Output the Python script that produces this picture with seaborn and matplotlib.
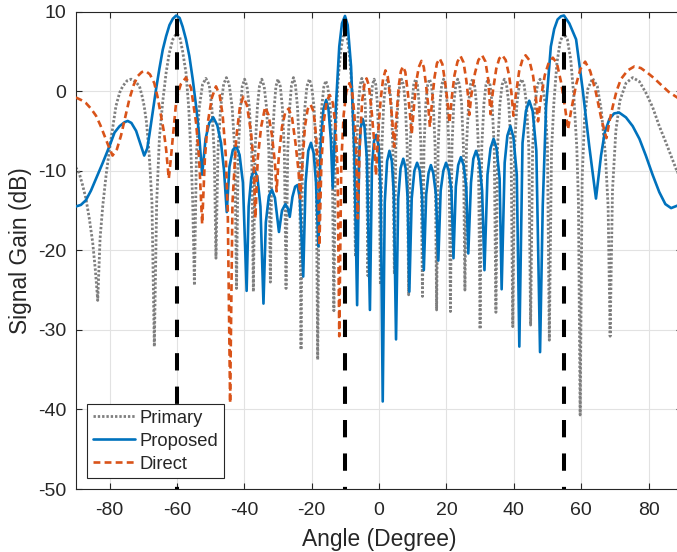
import matplotlib
matplotlib.use("Agg")
import matplotlib.pyplot as plt
import seaborn as sns

# ---------------- data ----------------
primary_pts = [
    (-90.0, -9.6), (-89.0, -10.3), (-88.0, -11.8), (-87.0, -13.5), (-86.0, -16.0), (-85.0, -19.0),
    (-84.2, -22.5), (-83.5, -26.3), (-82.8, -18.5), (-82.0, -14.4), (-81.0, -10.5), (-80.0, -7.3),
    (-79.0, -4.5), (-78.1, -1.9), (-77.0, -0.2), (-76.1, 0.6), (-74.8, 1.3), (-73.6, 1.5),
    (-72.3, 1.2), (-71.1, 0.6), (-70.4, -0.5), (-69.7, -1.9), (-69.0, -4.0), (-68.2, -8.1),
    (-67.4, -14.0), (-66.7, -32.1), (-66.0, -14.0), (-65.2, -6.0), (-64.2, -1.3), (-63.2, 2.3),
    (-62.3, 4.7), (-61.2, 6.5), (-60.2, 7.2), (-59.2, 6.9), (-58.3, 5.0), (-57.3, 2.3),
    (-56.5, -2.0), (-55.8, -8.1), (-55.3, -14.0), (-54.8, -24.4),
    (-54.2, -8.0), (-53.4, -2.2), (-52.4, 0.8), (-51.4, 1.6), (-50.4, 0.8), (-49.6, -2.2), (-48.9, -8.0), (-48.4, -21.0),
    (-47.8, -7.5), (-47.0, -2.0), (-46.1, 0.9), (-45.3, 1.7), (-44.5, 0.9), (-43.6, -2.0), (-42.8, -7.5), (-42.3, -24.8),
    (-41.8, -7.5), (-41.1, -2.0), (-40.6, 0.6), (-39.9, 1.5), (-39.2, 0.6), (-38.5, -2.0), (-37.8, -7.5), (-37.3, -25.2),
    (-36.8, -7.5), (-36.1, -2.0), (-35.5, 0.6), (-34.8, 1.5), (-34.1, 0.6), (-33.4, -2.0), (-32.7, -7.5), (-32.25, -24.0),
    (-31.8, -7.5), (-31.1, -2.0), (-30.6, 0.6), (-30.0, 1.5), (-29.3, 0.6), (-28.7, -2.0), (-28.1, -7.5), (-27.6, -24.8),
    (-27.1, -7.5), (-26.5, -2.0), (-26.0, 0.7), (-25.4, 1.7), (-24.8, 0.7), (-24.2, -2.0), (-23.6, -7.5), (-23.15, -32.5),
    (-22.7, -7.5), (-22.0, -2.0), (-21.4, 0.6), (-20.7, 1.5), (-20.0, 0.6), (-19.3, -2.0), (-18.7, -7.5), (-18.2, -33.75),
    (-17.7, -7.5), (-17.0, -2.0), (-16.4, 0.5), (-15.8, 1.3), (-15.2, 0.5), (-14.5, -2.0), (-13.9, -7.5), (-13.4, -27.6),
    (-12.9, -5.0), (-12.2, 1.0), (-11.4, 5.0), (-10.7, 6.8), (-10.1, 7.2), (-9.4, 6.6), (-8.7, 4.2), (-8.0, 0.0),
    (-7.5, -6.5), (-7.0, -20.8),
    (-6.6, -6.5), (-6.0, -1.0), (-5.6, 0.8), (-5.1, 1.6), (-4.6, 0.8), (-4.1, -1.5), (-3.7, -7.0), (-3.3, -23.2),
    (-2.9, -7.0), (-2.4, -1.5), (-1.95, 0.8), (-1.45, 1.5), (-0.95, 0.8), (-0.5, -1.5), (0.0, -7.0), (0.4, -24.3),
    (0.85, -7.0), (1.4, -1.5), (1.95, 0.8), (2.5, 1.5), (3.05, 0.8), (3.6, -1.5), (4.1, -7.0), (4.55, -23.0),
    (5.0, -7.0), (5.6, -1.5), (6.15, 0.8), (6.7, 1.5), (7.25, 0.8), (7.8, -1.5), (8.35, -7.0), (8.8, -25.6),
    (9.25, -7.0), (9.8, -1.5), (10.3, 0.8), (10.85, 1.5), (11.4, 0.8), (11.9, -1.5), (12.45, -7.0), (12.9, -25.8),
    (13.35, -7.0), (13.9, -1.5), (14.45, 0.8), (15.0, 1.5), (15.55, 0.8), (16.1, -1.5), (16.65, -7.0), (17.1, -27.5),
    (17.55, -7.0), (18.1, -1.5), (18.6, 0.8), (19.15, 1.5), (19.7, 0.8), (20.2, -1.5), (20.75, -7.0), (21.2, -27.7),
    (21.65, -7.0), (22.2, -1.5), (22.8, 0.8), (23.35, 1.5), (23.9, 0.8), (24.5, -1.5), (25.05, -7.0), (25.5, -25.0),
    (25.95, -7.0), (26.6, -1.5), (27.15, 0.8), (27.75, 1.5), (28.35, 0.8), (28.9, -1.5), (29.5, -7.0), (30.0, -29.9),
    (30.5, -7.0), (31.15, -1.5), (31.75, 0.8), (32.35, 1.5), (32.95, 0.8), (33.55, -1.5), (34.2, -7.0), (34.7, -27.8),
    (35.2, -7.0), (35.9, -1.5), (36.55, 0.8), (37.2, 1.5), (37.85, 0.8), (38.5, -1.5), (39.2, -7.0), (39.7, -29.6),
    (40.25, -7.0), (40.95, -1.5), (41.65, 0.8), (42.35, 1.5), (43.05, 0.8), (43.75, -1.5), (44.45, -7.0), (45.0, -29.4),
    (45.6, -7.0), (46.3, -1.5), (47.05, 0.8), (47.8, 1.5), (48.55, 0.8), (49.3, -1.5), (50.0, -7.0), (50.55, -31.3),
    (51.2, -7.5), (51.9, -1.5), (52.8, 3.5), (53.8, 6.3), (54.9, 7.2), (55.9, 6.5), (56.9, 4.0), (57.8, -0.5),
    (58.7, -7.0), (59.2, -14.0), (59.7, -40.7),
    (60.3, -11.0), (61.0, -3.5), (62.0, 0.3), (63.4, 1.6), (64.8, 0.6), (66.0, -2.5), (67.2, -8.0), (68.0, -14.5),
    (68.6, -30.8), (69.3, -12.5), (70.3, -5.0), (71.5, -1.2), (73.3, 1.0), (75.3, 1.7), (77.3, 1.2), (79.2, -0.2),
    (81.2, -2.0), (83.2, -4.4), (85.2, -6.5), (87.0, -8.5), (88.2, -9.8), (90.0, -11.5),
]

proposed_pts = [
    (-90.0, -14.5), (-88.5, -14.3), (-87.0, -13.7), (-85.5, -12.5), (-84.0, -11.0), (-82.0, -9.0),
    (-80.0, -6.9), (-78.5, -5.2), (-77.0, -4.4), (-75.5, -3.9), (-74.6, -3.75), (-73.5, -4.0),
    (-72.1, -5.0), (-70.8, -6.7), (-69.7, -8.1), (-68.8, -7.2), (-68.2, -5.6), (-67.2, -2.7),
    (-66.2, 0.2), (-65.2, 2.8), (-64.2, 5.2), (-63.2, 6.9), (-62.2, 8.3), (-61.2, 9.1),
    (-60.2, 9.5), (-59.2, 9.2), (-58.3, 8.1), (-57.3, 6.5), (-56.3, 4.4), (-55.3, 1.5),
    (-54.3, -1.9), (-53.4, -5.5), (-52.5, -10.5),
    (-51.5, -6.0), (-50.4, -4.0), (-49.2, -3.3), (-48.0, -4.3), (-46.9, -6.5), (-46.0, -10.0), (-45.2, -15.2),
    (-44.4, -9.5), (-43.4, -7.4), (-42.4, -6.9), (-41.4, -8.0), (-40.4, -11.5), (-39.3, -25.1),
    (-38.7, -14.5), (-37.9, -10.8), (-37.0, -9.9), (-36.1, -10.8), (-35.2, -14.5), (-34.3, -26.7),
    (-33.6, -16.5), (-32.7, -13.2), (-31.8, -12.4), (-30.9, -13.4), (-29.7, -17.7),
    (-28.8, -15.0), (-27.8, -14.2), (-27.0, -14.8), (-26.5, -15.8),
    (-25.7, -13.3), (-24.9, -12.0), (-24.2, -11.8), (-23.5, -13.5), (-22.5, -23.3),
    (-21.8, -11.5), (-21.0, -7.5), (-20.2, -6.5), (-19.4, -7.8), (-18.7, -11.5), (-18.0, -19.5),
    (-17.3, -6.5), (-16.5, -2.3), (-15.7, -1.1), (-15.0, -2.3), (-14.3, -6.0), (-13.75, -12.2),
    (-12.8, -1.9), (-11.8, 5.6), (-11.0, 8.5), (-10.1, 9.45), (-9.3, 8.3), (-8.3, 3.1), (-7.3, -8.1), (-6.5, -26.9),
    (-5.9, -8.0), (-5.4, -4.5), (-4.85, -3.5), (-4.3, -4.5), (-3.6, -8.5), (-2.7, -27.5),
    (-2.1, -9.5), (-1.5, -6.3), (-0.8, -5.5), (-0.1, -7.0), (0.5, -12.5), (1.1, -39.0),
    (1.7, -14.0), (2.4, -8.8), (3.1, -7.5), (3.8, -8.8), (4.4, -13.0), (5.05, -31.2),
    (5.7, -13.5), (6.4, -9.7), (7.2, -8.5), (7.9, -9.7), (8.5, -13.5), (9.0, -25.2),
    (9.7, -13.5), (10.5, -10.0), (11.3, -9.0), (12.1, -10.0), (12.8, -13.5), (13.3, -22.5),
    (14.0, -13.0), (14.7, -10.3), (15.4, -9.3), (16.1, -10.3), (16.9, -13.0), (17.6, -21.3),
    (18.3, -12.5), (19.1, -10.0), (19.9, -9.0), (20.7, -10.0), (21.5, -12.5), (22.1, -21.0),
    (22.8, -12.0), (23.5, -9.3), (24.3, -8.3), (25.1, -9.3), (25.9, -12.0), (26.5, -20.4),
    (27.3, -11.5), (28.0, -8.5), (28.8, -7.5), (29.7, -8.7), (30.6, -12.5), (31.3, -22.5),
    (32.2, -10.5), (33.1, -7.2), (34.0, -6.0), (34.9, -7.2), (35.8, -11.0), (36.4, -24.9),
    (37.3, -9.0), (38.1, -5.6), (39.0, -4.4), (39.9, -5.8), (40.9, -10.5), (41.65, -32.1),
    (42.6, -6.5), (43.6, -2.5), (44.6, -1.2), (45.6, -2.5), (46.7, -7.5), (47.8, -32.8),
    (48.6, -14.4), (49.6, -1.9), (51.0, 5.6), (52.0, 7.8), (53.0, 9.0), (54.0, 9.4), (54.9, 9.5),
    (56.5, 8.5), (58.5, 6.5), (60.45, 0.2), (62.4, -6.9), (64.4, -13.5),
    (65.9, -8.1), (67.0, -5.2), (68.4, -3.5), (69.8, -2.8), (71.3, -2.7), (73.3, -3.3), (75.3, -4.4),
    (77.3, -6.0), (79.2, -8.1), (81.2, -10.5), (83.2, -12.7), (85.0, -14.2), (86.7, -14.7),
    (88.5, -14.4), (90.0, -14.0),
]

direct_pts = [
    (-90.0, -0.8), (-88.5, -1.1), (-87.0, -1.5), (-85.5, -2.2), (-84.0, -3.1), (-82.7, -4.3),
    (-81.5, -5.6), (-80.2, -7.0), (-79.1, -8.1), (-77.8, -7.3), (-76.6, -5.6), (-75.3, -3.2),
    (-74.1, -1.0), (-72.8, 0.8), (-71.6, 1.9), (-70.4, 2.4), (-69.2, 2.5), (-68.0, 2.1),
    (-66.7, 1.0), (-65.7, -0.8), (-64.7, -3.1), (-63.9, -5.0), (-63.2, -7.3), (-62.4, -11.0),
    (-61.8, -8.5), (-61.25, -6.0), (-60.25, -1.5), (-59.5, 0.0), (-58.8, 0.9), (-57.3, 1.7),
    (-55.8, 0.4), (-54.3, -4.0), (-53.4, -8.5), (-52.5, -16.7), (-51.7, -8.5), (-50.85, -4.0),
    (-49.6, -0.8), (-48.4, 0.6), (-47.3, -0.5), (-46.4, -3.1), (-45.5, -8.0), (-44.9, -15.0),
    (-44.2, -39.2), (-43.5, -14.0), (-42.4, -6.0), (-41.3, -2.0), (-40.3, -0.7), (-39.2, -1.8),
    (-38.0, -5.2), (-37.2, -9.0), (-36.7, -16.0), (-36.0, -8.5), (-35.0, -4.5), (-33.8, -2.0),
    (-32.8, -3.0), (-31.8, -5.5), (-30.9, -9.0), (-30.4, -12.6), (-29.8, -8.5), (-28.8, -4.5),
    (-27.8, -2.6), (-26.8, -2.2), (-25.8, -3.4), (-24.8, -6.5), (-23.9, -10.0), (-23.4, -13.5),
    (-22.8, -9.5), (-22.0, -4.5), (-21.2, -2.3), (-20.3, -1.7), (-19.4, -2.6), (-18.6, -6.0),
    (-18.1, -10.5), (-17.7, -19.4), (-17.1, -9.0), (-16.3, -3.5), (-15.5, -1.2), (-14.6, -0.5),
    (-13.7, -1.5), (-12.9, -4.5), (-12.3, -10.0), (-11.8, -30.8), (-11.2, -9.0), (-10.5, -3.0),
    (-9.7, -0.1), (-8.8, 1.0), (-8.0, 0.1), (-7.3, -3.0), (-6.8, -7.5), (-6.3, -16.0),
    (-5.7, -6.5), (-5.0, -1.2), (-4.3, 0.9), (-3.7, 1.6), (-3.0, 0.7), (-2.2, -2.5),
    (-1.5, -6.0), (-0.9, -10.6), (-0.3, -5.5), (0.5, -1.0), (1.2, 1.5), (1.9, 2.6),
    (2.6, 1.8), (3.3, -0.8), (3.9, -3.5), (4.5, -7.0), (5.2, -3.0), (5.9, 0.8),
    (6.5, 2.5), (7.1, 3.1), (7.8, 2.4), (8.5, 0.0), (9.1, -2.5), (9.7, -5.4),
    (10.4, -1.8), (11.1, 1.3), (11.8, 3.0), (12.6, 3.8), (13.3, 3.0), (14.0, 0.6),
    (14.6, -1.8), (15.1, -4.5), (15.8, -1.0), (16.5, 1.8), (17.2, 3.5), (18.0, 4.1),
    (18.8, 3.4), (19.6, 1.2), (20.3, -1.2), (20.9, -4.0), (21.6, -0.8), (22.4, 2.0),
    (23.3, 3.7), (24.2, 4.4), (25.1, 3.6), (25.9, 1.4), (26.4, -0.5), (26.8, -3.0),
    (27.4, -0.5), (28.5, 2.3), (29.5, 3.9), (30.6, 4.5), (31.6, 3.7), (32.4, 1.5),
    (33.1, -2.9), (33.8, 0.0), (34.8, 2.8), (35.7, 4.1), (36.6, 4.5), (37.6, 3.9),
    (38.6, 2.0), (39.3, -0.2), (39.9, -3.1), (40.6, -0.5), (41.6, 2.5), (42.6, 4.0),
    (43.5, 4.5), (44.6, 3.9), (45.7, 2.0), (46.5, -0.5), (47.2, -3.8), (48.0, -1.0),
    (49.2, 2.0), (50.4, 3.6), (51.6, 4.2), (52.8, 3.5), (54.0, 1.2), (55.2, -2.0),
    (56.1, -4.8), (57.0, -2.5), (58.5, 0.8), (59.8, 2.8), (61.2, 3.7), (62.7, 2.5),
    (64.4, -0.2), (66.0, -3.5), (67.5, -5.9), (68.5, -3.6), (69.4, -1.9), (70.5, 0.0),
    (71.8, 1.5), (73.8, 2.6), (75.8, 3.1), (77.7, 2.9), (79.7, 2.3), (81.7, 1.6),
    (83.7, 0.8), (86.0, -0.1), (88.5, -0.8), (90.0, -1.2),
]

target_angles = [-60, -10, 55]
gain_floor, gain_ceiling = -50, 10

x_ticks = [-80, -60, -40, -20, 0, 20, 40, 60, 80]
y_ticks = [-50, -40, -30, -20, -10, 0, 10]

# ---------------- style ----------------
sns.set_theme(style="white")
plt.rcParams["font.family"] = ["Liberation Sans", "DejaVu Sans"]
plt.rcParams["axes.unicode_minus"] = False
plt.rcParams["axes.edgecolor"] = "#262626"
plt.rcParams["xtick.color"] = "#262626"
plt.rcParams["ytick.color"] = "#262626"

fig = plt.figure(figsize=(6.77, 5.52), dpi=100)
ax = fig.add_axes([0.1120, 0.1141, 0.8957, 0.8650])

def unzip(pts):
    return [p[0] for p in pts], [p[1] for p in pts]

xa, ya = unzip(primary_pts)
sns.lineplot(x=xa, y=ya, ax=ax, sort=False, estimator=None, color="#7f7f7f",
             linewidth=2.0, linestyle=(0, (0.85, 0.7)), label="Primary", zorder=2)
xa, ya = unzip(proposed_pts)
sns.lineplot(x=xa, y=ya, ax=ax, sort=False, estimator=None, color="#0072BD",
             linewidth=1.9, linestyle="-", label="Proposed", zorder=3)
xa, ya = unzip(direct_pts)
sns.lineplot(x=xa, y=ya, ax=ax, sort=False, estimator=None, color="#D95319",
             linewidth=1.9, linestyle=(0, (2.6, 1.6)), label="Direct", zorder=4)

for a in target_angles:
    sns.lineplot(x=[a, a], y=[gain_ceiling, gain_floor], ax=ax, sort=False, estimator=None,
                 color="black", linewidth=2.9, linestyle=(6.6, (4.3, 4.0)), zorder=5)

ax.set_xlim(-90, 90)
ax.set_ylim(gain_floor, gain_ceiling)
ax.set_xticks(x_ticks)
ax.set_yticks(y_ticks)
ax.grid(True, color="#e2e2e2", linewidth=0.8)
ax.set_axisbelow(True)
ax.tick_params(direction="in", length=4, width=0.8, labelsize=14, top=True, right=True,
               bottom=True, left=True, pad=7)
ax.tick_params(axis="x", pad=9.5)
for s in ax.spines.values():
    s.set_linewidth(0.8)
    s.set_color("#262626")

ax.set_xlabel("Angle (Degree)", fontsize=16.4, color="#262626", labelpad=6)
ax.set_ylabel("Signal Gain (dB)", fontsize=16.4, color="#262626", labelpad=4)

handles, labels = ax.get_legend_handles_labels()
leg = ax.legend(handles[:3], labels[:3], loc="lower left", bbox_to_anchor=(0.019, 0.0224),
                borderaxespad=0, fontsize=13.2, frameon=True, fancybox=False,
                handlelength=2.3, handletextpad=0.25, labelspacing=0.33, borderpad=0.3)
leg.get_frame().set_edgecolor("#262626")
leg.get_frame().set_linewidth(0.8)
leg.get_frame().set_facecolor("white")
leg.get_frame().set_alpha(1.0)

fig.savefig("out.png", dpi=100)
